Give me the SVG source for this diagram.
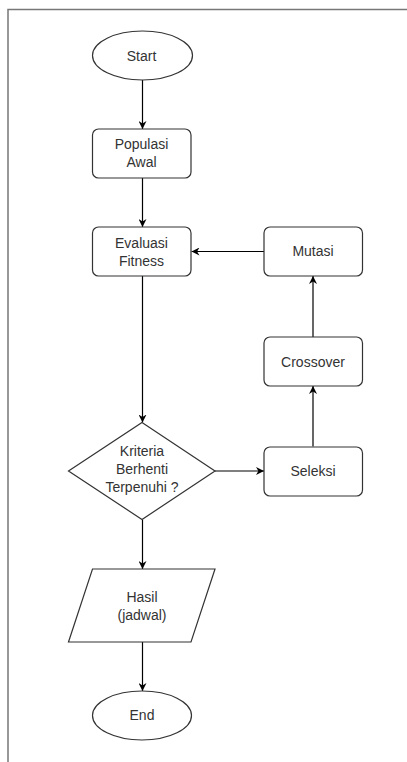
<svg xmlns="http://www.w3.org/2000/svg" width="407" height="762" viewBox="0 0 407 762">
<defs>
<marker id="ah" viewBox="0 0 10 10" refX="10" refY="5" markerWidth="8" markerHeight="8" markerUnits="userSpaceOnUse" orient="auto">
<path d="M0,0 L10,5 L0,10 L3,5 Z" fill="#000"/>
</marker>
</defs>
<style>
.shape{fill:#fff;stroke:#333;stroke-width:1.2}
.lbl{font-family:"Liberation Sans",Arial,sans-serif;font-size:14px;fill:#333;text-anchor:middle}
.conn{fill:none;stroke:#000;stroke-width:1.2;marker-end:url(#ah)}
</style>
<rect width="407" height="762" fill="#fff"/>
<path d="M8,762 L8,9.5 L407,9.5" fill="none" stroke="#777" stroke-width="1.5"/>
<g id="connectors">
<path class="conn" d="M142.5,80 L142.5,129"/>
<path class="conn" d="M142.5,178 L142.5,227"/>
<path class="conn" d="M142.5,276 L142.5,422.5"/>
<path class="conn" d="M215,471 L264,471"/>
<path class="conn" d="M313,446.5 L313,386"/>
<path class="conn" d="M313,337 L313,276"/>
<path class="conn" d="M264,251.5 L191.5,251.5"/>
<path class="conn" d="M142.5,519.5 L142.5,569"/>
<path class="conn" d="M142.5,642 L142.5,691"/>
</g>
<g id="start">
<ellipse class="shape" cx="142.5" cy="55.5" rx="50" ry="24.5"/>
<text class="lbl" x="141.5" y="60.5">Start</text>
</g>
<g id="populasi">
<rect class="shape" x="92.5" y="129" width="98.5" height="49" rx="6"/>
<text class="lbl" x="141.5" y="149">Populasi</text>
<text class="lbl" x="141.5" y="167">Awal</text>
</g>
<g id="evaluasi">
<rect class="shape" x="92.5" y="227" width="98.5" height="49" rx="6"/>
<text class="lbl" x="141.5" y="247.5">Evaluasi</text>
<text class="lbl" x="141.5" y="265.5">Fitness</text>
</g>
<g id="mutasi">
<rect class="shape" x="264" y="227" width="98.5" height="49" rx="6"/>
<text class="lbl" x="313" y="256">Mutasi</text>
</g>
<g id="crossover">
<rect class="shape" x="264" y="337" width="98.5" height="49" rx="6"/>
<text class="lbl" x="313" y="366.5">Crossover</text>
</g>
<g id="seleksi">
<rect class="shape" x="264" y="447" width="98.5" height="49" rx="6"/>
<text class="lbl" x="313" y="476">Seleksi</text>
</g>
<g id="kriteria">
<polygon class="shape" points="142,422.5 215,471 142,519.5 68.5,471"/>
<text class="lbl" x="142" y="456">Kriteria</text>
<text class="lbl" x="142" y="474">Berhenti</text>
<text class="lbl" x="142" y="492">Terpenuhi ?</text>
</g>
<g id="hasil">
<polygon class="shape" points="92.5,569 215,569 191,642 68.5,642"/>
<text class="lbl" x="142" y="601.5">Hasil</text>
<text class="lbl" x="142" y="619.5">(jadwal)</text>
</g>
<g id="end">
<ellipse class="shape" cx="142" cy="715.5" rx="49.5" ry="24.5"/>
<text class="lbl" x="142" y="720">End</text>
</g>
</svg>
